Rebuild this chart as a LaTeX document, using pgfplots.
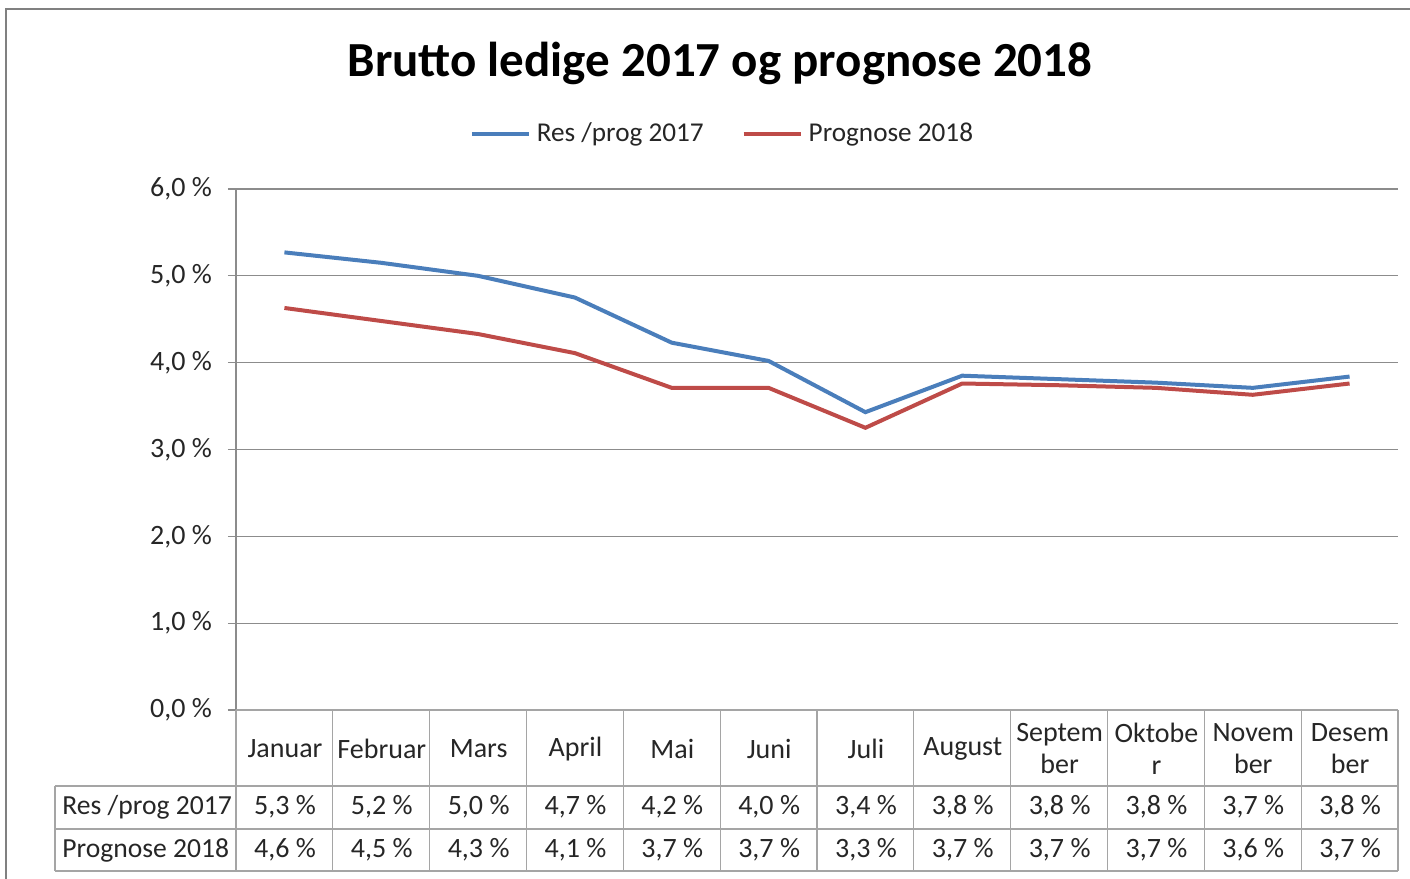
\documentclass[border=0pt]{standalone}
\usepackage{fontspec}
\setmainfont{Carlito}
\usepackage{pgfplots}
\pgfplotsset{compat=1.18}
\definecolor{blueS}{RGB}{74,126,187}
\definecolor{redS}{RGB}{190,75,72}
\definecolor{gridc}{RGB}{140,140,140}
\definecolor{tabc}{RGB}{165,165,165}
\definecolor{framec}{RGB}{128,128,128}
\pgfplotstableread{
x blue red
0 5.27 4.63
1 5.15 4.48
2 5.00 4.33
3 4.75 4.11
4 4.23 3.71
5 4.02 3.71
6 3.43 3.25
7 3.85 3.76
8 3.81 3.74
9 3.77 3.71
10 3.71 3.63
11 3.84 3.76
}\datatable
\begin{document}
\begin{tikzpicture}
\begin{axis}[
  at={(0,0)}, anchor=south west,
  scale only axis, width=581pt, height=260.5pt,
  xmin=-0.5, xmax=11.5, ymin=0, ymax=6,
  axis lines*=left,
  axis line style={gridc, line width=0.6pt},
  xtick=\empty,
  ytick={0,1,2,3,4,5,6},
  yticklabels={{0,0 \%},{1,0 \%},{2,0 \%},{3,0 \%},{4,0 \%},{5,0 \%},{6,0 \%}},
  yticklabel style={font=\fontsize{14}{17}\selectfont, text=black!85, xshift=-4.5pt},
  tick align=outside,
  major tick length=4pt,
  tick style={gridc, line width=0.6pt},
  ymajorgrids,
  grid style={gridc, line width=0.6pt},
  clip=false,
  legend columns=2,
  legend style={at={(0.4195,1.1056)}, anchor=center, draw=none, fill=none,
    font=\fontsize{13.6}{16}\selectfont, text=black!85,
    /tikz/every odd column/.append style={column sep=1pt},
    /tikz/every even column/.append style={column sep=17pt}},
  legend image code/.code={\draw[#1] (0pt,0pt) -- (28.5pt,0pt);},
]
\addplot[blueS, line width=2pt] table[x=x, y=blue] {\datatable};
\addlegendentry{Res /prog 2017}
\addplot[redS, line width=2pt] table[x=x, y=red] {\datatable};
\addlegendentry{Prognose 2018}
\end{axis}
\begin{scope}[x=0.5pt, y=-0.5pt, shift={(-118pt,355pt)}]
  \path[use as bounding box] (0,0) rectangle (1410,879);
  \draw[framec, line width=1pt] (6,879) -- (6,9) -- (1410,9);
  \node[font=\fontsize{24.5}{29}\bfseries] at (720,63) {Brutto ledige 2017 og prognose 2018};
  % table grid
  \begin{scope}[tabc, line width=0.6pt]
    \draw (236,710) -- (1398,710);
    \draw (55,786) -- (1398,786);
    \draw (55,829) -- (1398,829);
    \draw (55,871) -- (1398,871);
    \draw (55,786) -- (55,871);
    \foreach \k in {0,...,12} \draw ({236+\k*96.83},710) -- ({236+\k*96.83},871);
  \end{scope}
  \begin{scope}[every node/.style={font=\fontsize{14}{16}\selectfont, text=black!85, align=center, inner sep=0pt}]
    \foreach \h [count=\i from 0] in {Januar,Februar,Mars,April,Mai,Juni,Juli,August,{Septem\\ber},{Oktobe\\r},{Novem\\ber},{Desem\\ber}}
      \node at ({285+\i*96.83},749) {\h};
    \foreach \v [count=\i from 0] in {{5,3 \%},{5,2 \%},{5,0 \%},{4,7 \%},{4,2 \%},{4,0 \%},{3,4 \%},{3,8 \%},{3,8 \%},{3,8 \%},{3,7 \%},{3,8 \%}}
      \node at ({285+\i*96.83},807) {\v};
    \foreach \v [count=\i from 0] in {{4,6 \%},{4,5 \%},{4,3 \%},{4,1 \%},{3,7 \%},{3,7 \%},{3,3 \%},{3,7 \%},{3,7 \%},{3,7 \%},{3,6 \%},{3,7 \%}}
      \node at ({285+\i*96.83},850) {\v};
    \node[anchor=west, font=\fontsize{13.8}{16}\selectfont] at (62,807) {Res /prog 2017};
    \node[anchor=west, font=\fontsize{13.8}{16}\selectfont] at (62,850) {Prognose 2018};
  \end{scope}
\end{scope}
\end{tikzpicture}
\end{document}
